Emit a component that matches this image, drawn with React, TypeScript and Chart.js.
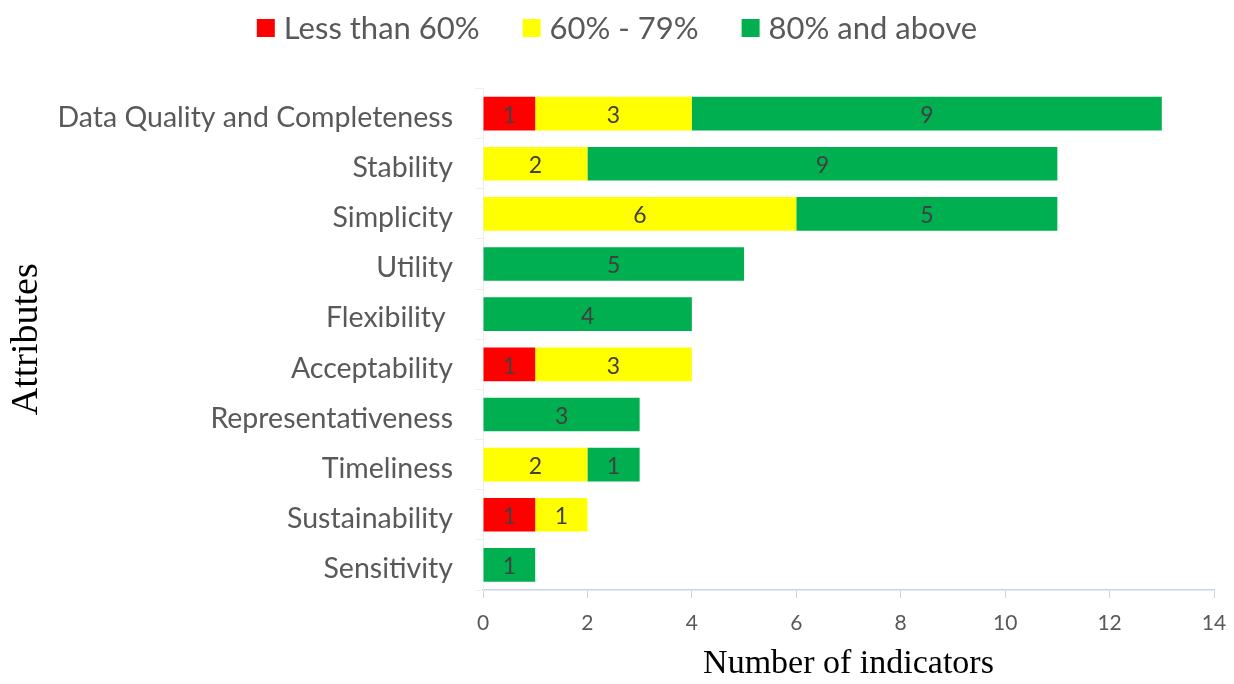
import React, { useEffect, useRef } from "react";
import { Chart, registerables } from "chart.js";

Chart.register(...registerables);

const categories = [
  "Data Quality and Completeness",
  "Stability",
  "Simplicity",
  "Utility",
  "Flexibility ",
  "Acceptability",
  "Representativeness",
  "Timeliness",
  "Sustainability",
  "Sensitivity",
];
const lessThan60 = [1, 0, 0, 0, 0, 1, 0, 0, 1, 0];
const from60to79 = [3, 2, 6, 0, 0, 3, 0, 2, 1, 0];
const above80 = [9, 9, 5, 5, 4, 0, 3, 1, 0, 1];
const seriesNames = ["Less than 60%", "60% - 79%", "80% and above"];
const seriesColors = ["#ff0000", "#ffff00", "#00b050"];
const xTicks = [0, 2, 4, 6, 8, 10, 12, 14];

const FONT = "Lato, 'Open Sans', sans-serif";
const SERIF = "'Liberation Serif', 'DejaVu Serif', serif";
const GREY = "#595959";

const labelPlugin = {
  id: "segLabels",
  afterDatasetsDraw(chart: any) {
    const ctx = chart.ctx;
    ctx.save();
    ctx.font = `23px ${FONT}`;
    ctx.fillStyle = "#404040";
    ctx.textAlign = "center";
    ctx.textBaseline = "middle";
    chart.data.datasets.forEach((ds: any, di: number) => {
      const meta = chart.getDatasetMeta(di);
      meta.data.forEach((el: any, i: number) => {
        const v = ds.data[i];
        if (!v) return;
        const p = el.getProps(["x", "y", "base"], true);
        ctx.fillText(String(v), (p.x + p.base) / 2, p.y + 2);
      });
    });
    ctx.restore();
  },
};

const legendPlugin = {
  id: "topLegend",
  afterDraw(chart: any) {
    const ctx = chart.ctx;
    ctx.save();
    ctx.font = `31px ${FONT}`;
    ctx.textBaseline = "middle";
    ctx.textAlign = "left";
    const box = 18;
    const gapBoxText = 9;
    const gapItems = 43;
    const items = chart.data.datasets.map((ds: any) => ({
      text: ds.label,
      color: ds.backgroundColor,
      w: ctx.measureText(ds.label).width,
    }));
    const total =
      items.reduce((a: number, it: any) => a + box + gapBoxText + it.w, 0) +
      gapItems * (items.length - 1);
    let x = (chart.width - total) / 2;
    const cy = 28;
    items.forEach((it: any) => {
      ctx.fillStyle = it.color;
      ctx.fillRect(x, cy - box / 2, box, box);
      x += box + gapBoxText;
      ctx.fillStyle = GREY;
      ctx.fillText(it.text, x, cy + 1);
      x += it.w + gapItems;
    });
    ctx.restore();
  },
};

export default function App() {
  const ref = useRef<HTMLCanvasElement | null>(null);
  useEffect(() => {
    document.body.style.margin = "0";
    const chart = new Chart(ref.current!, {
      type: "bar",
      data: {
        labels: categories,
        datasets: [
          { label: seriesNames[0], data: lessThan60, backgroundColor: seriesColors[0] },
          { label: seriesNames[1], data: from60to79, backgroundColor: seriesColors[1] },
          { label: seriesNames[2], data: above80, backgroundColor: seriesColors[2] },
        ],
      },
      options: {
        indexAxis: "y",
        animation: false,
        responsive: false,
        maintainAspectRatio: false,
        layout: { padding: { top: 88.5, right: 20, bottom: 0, left: 0 } },
        datasets: { bar: { categoryPercentage: 0.67, barPercentage: 1 } },
        plugins: {
          legend: { display: false },
          tooltip: { enabled: false },
        },
        scales: {
          x: {
            stacked: true,
            min: 0,
            max: 14,
            afterBuildTicks: (s: any) => {
              s.ticks = xTicks.map((v) => ({ value: v }));
            },
            afterFit: (s: any) => {
              s.height = 94;
              s.paddingRight = 0;
              s.paddingLeft = 0;
            },
            grid: {
              drawOnChartArea: false,
              drawTicks: true,
              tickLength: 8,
              color: "#c9d3ea",
            },
            border: { color: "#c9d3ea", width: 1.5 },
            ticks: { color: GREY, font: { family: FONT, size: 21 }, padding: 13 },
            title: {
              display: true,
              text: "Number of indicators",
              color: "#000",
              font: { family: SERIF, size: 34 },
              padding: { top: 0, bottom: 0 },
            },
          },
          y: {
            stacked: true,
            afterFit: (s: any) => {
              s.width = 483;
            },
            grid: {
              drawOnChartArea: false,
              drawTicks: true,
              tickLength: 8,
              color: "#eeeeee",
              offset: true,
            },
            border: { color: "#eeeeee" },
            ticks: {
              color: GREY,
              font: { family: FONT, size: 28.5 },
              padding: 22,
              labelOffset: 4,
            },
            title: {
              display: true,
              text: "Attributes",
              color: "#000",
              font: { family: SERIF, size: 38 },
              padding: { top: 4, bottom: 0 },
            },
          },
        },
      },
      plugins: [labelPlugin, legendPlugin],
    });
    return () => chart.destroy();
  }, []);
  return (
    <div style={{ width: 1234, height: 684 }}>
      <canvas ref={ref} width={1234} height={684} style={{ display: "block" }} />
    </div>
  );
}
